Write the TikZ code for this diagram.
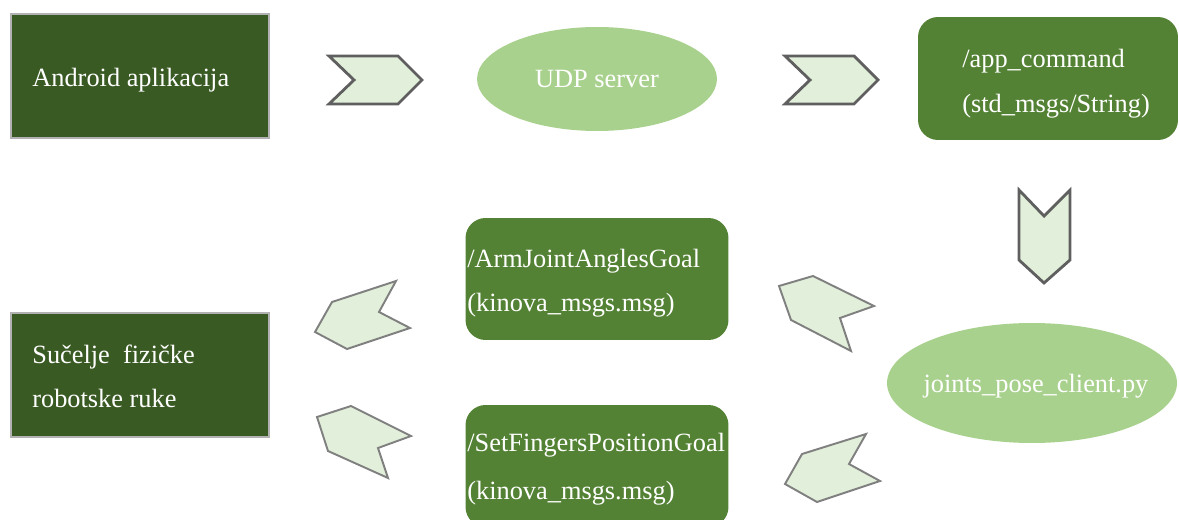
\documentclass[tikz,border=0pt]{standalone}
\usepackage{fontspec}
\setmainfont{Liberation Serif}
\usetikzlibrary{shapes.geometric}

\definecolor{darkgreen}{HTML}{3A5A24}
\definecolor{midgreen}{HTML}{548235}
\definecolor{lightgreen}{HTML}{A9D18E}
\definecolor{palegreen}{HTML}{E2EFDA}
\definecolor{edgegray}{HTML}{5F5F5F}
\definecolor{tiltgray}{HTML}{808080}

\tikzset{
  darkbox/.style={fill=darkgreen, draw=gray!60, line width=0.6pt, minimum width=5.16cm, minimum height=2.48cm},
  roundbox/.style={fill=midgreen, rounded corners=0.4cm, minimum width=5.26cm, minimum height=2.44cm},
  oval/.style={ellipse, fill=lightgreen},
  txt/.style={text=white, font=\fontsize{15}{18}\selectfont, inner sep=0pt},
  chevron/.style={fill=palegreen, draw=edgegray, line width=1.6pt, line join=miter},
  tiltchevron/.style={fill=palegreen, draw=tiltgray, line width=1.1pt, line join=miter}
}

\begin{document}
\begin{tikzpicture}[x=0.02cm, y=-0.02cm]

\clip (0,0) rectangle (1179,520);

% Boxes and ellipses
\node[darkbox] (android) at (140,76) {};
\node[oval, minimum width=4.8cm, minimum height=2.08cm] (udp) at (597,79) {};
\node[roundbox, minimum width=5.2cm, minimum height=2.46cm] (appcmd) at (1048,78.5) {};
\node[oval, minimum width=5.8cm, minimum height=2.4cm] (client) at (1032,383) {};
\node[roundbox] (armgoal) at (597,279) {};
\node[roundbox] (fingergoal) at (597,466) {};
\node[darkbox] (arm) at (140,375) {};

% Texts
\node[txt, anchor=base west] (androidtxt) at (32,87) {Android aplikacija};
\node[txt, anchor=base] (udptxt) at (597,88) {UDP server};
\node[txt, anchor=base west] (appcmdA) at (962,68) {/app\_command};
\node[txt, anchor=base west] (appcmdB) at (962,113) {(std\_msgs/String)};
\node[txt, anchor=base] (clienttxt) at (1036,392) {joints\_pose\_client.py};
\node[txt, anchor=base west] (armgoalA) at (467,267) {/ArmJointAnglesGoal};
\node[txt, anchor=base west] (armgoalB) at (467,311) {(kinova\_msgs.msg)};
\node[txt, anchor=base west] (fingergoalA) at (467,451) {/SetFingersPositionGoal};
\node[txt, anchor=base west] (fingergoalB) at (467,499) {(kinova\_msgs.msg)};
\node[txt, anchor=base west] (armA) at (32,363) {Sučelje\ \ fizičke};
\node[txt, anchor=base west] (armB) at (32,407) {robotske ruke};

% Straight chevrons
\draw[chevron] (329,56) -- (398,56) -- (422,80) -- (398,104) -- (329,104) -- (354,80) -- cycle;
\draw[chevron] (785,56) -- (854,56) -- (878,80) -- (854,104) -- (785,104) -- (810,80) -- cycle;
\draw[chevron] (1019,190) -- (1044,216) -- (1070,190) -- (1070,260) -- (1044,283) -- (1019,260) -- cycle;

% Tilted chevrons
\draw[tiltchevron] (396,281) -- (379,312) -- (410,328) -- (347,349) -- (315,332) -- (332,302) -- cycle;
\draw[tiltchevron] (813,276) -- (874,306) -- (840,318) -- (851,351) -- (791,320) -- (779,286) -- cycle;
\draw[tiltchevron] (866,434) -- (849,464) -- (880,481) -- (817,502) -- (785,484) -- (802,454) -- cycle;
\draw[tiltchevron] (351,406) -- (411,436) -- (378,448) -- (388,478) -- (328,451) -- (317,417) -- cycle;

\end{tikzpicture}
\end{document}
